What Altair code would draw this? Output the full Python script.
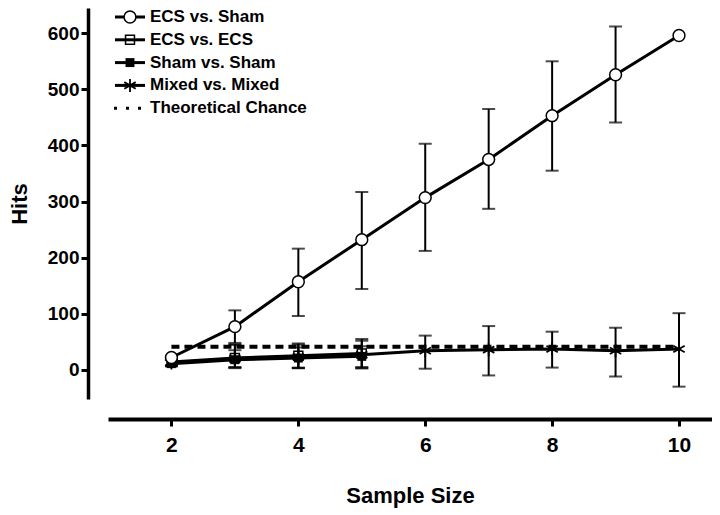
import altair as alt
import pandas as pd

FONT = "Liberation Sans"

# ---- data ----
sizes = [2, 3, 4, 5, 6, 7, 8, 9, 10]
ecs_sham = [22, 77, 157, 232, 307, 375, 453, 526, 596]
ecs_sham_lo = [None, 48, 96, 144, 212, 287, 355, 441, None]
ecs_sham_hi = [None, 106, 216, 317, 403, 465, 550, 612, None]

sizes_short = [2, 3, 4, 5]
ecs_ecs = [14, 21, 25, 29]
ecs_ecs_lo = [8, 5, 4, 5]
ecs_ecs_hi = [22, 45, 45, 52]
sham_sham = [11, 18, 21, 24]
sham_sham_lo = [6, 4, 3, 3]
sham_sham_hi = [18, 35, 40, 42]

mixed = [12, 20, 23, 27, 34, 36, 37, 34, 37]
mixed_lo = [8, 3, 3, 3, 2, -10, 4, -12, -30]
mixed_hi = [18, 45, 47, 55, 61, 78, 68, 75, 101]

chance = [41, 41, 41, 41, 41, 41, 41, 41, 41]

legend_labels = ["ECS vs. Sham", "ECS vs. ECS", "Sham vs. Sham",
                 "Mixed vs. Mixed", "Theoretical Chance"]
x_ticks = [2, 4, 6, 8, 10]
y_ticks = [0, 100, 200, 300, 400, 500, 600]

# ---- tables ----
rows = []
def add(name, xs, ys, lo=None, hi=None):
    for i, (xv, yv) in enumerate(zip(xs, ys)):
        rows.append({"series": name, "x": xv, "y": yv,
                     "lo": None if lo is None else lo[i],
                     "hi": None if hi is None else hi[i]})

add("ECS vs. Sham", sizes, ecs_sham, ecs_sham_lo, ecs_sham_hi)
add("ECS vs. ECS", sizes_short, ecs_ecs, ecs_ecs_lo, ecs_ecs_hi)
add("Sham vs. Sham", sizes_short, sham_sham, sham_sham_lo, sham_sham_hi)
add("Mixed vs. Mixed", sizes, mixed, mixed_lo, mixed_hi)
add("Theoretical Chance", sizes, chance)
df = pd.DataFrame(rows)

leg = pd.DataFrame({"label": legend_labels, "row": list(range(len(legend_labels)))})

# ---- scales / encodings ----
xsc = alt.Scale(domain=[1, 10.52], nice=False, zero=False)
ysc = alt.Scale(domain=[-52, 645], nice=False, zero=False)

x_axis = alt.Axis(values=x_ticks, offset=20, grid=False, domainWidth=4,
                  tickWidth=3, tickSize=7, labelFontSize=21, labelPadding=8,
                  titleFontSize=22, titlePadding=30, format="d")
y_axis = alt.Axis(values=y_ticks, offset=20, grid=False, domainWidth=3.5,
                  tickWidth=3, tickSize=7, labelFontSize=19, labelPadding=2,
                  titleFontSize=22, titlePadding=16, format="d")

def X():
    return alt.X("x:Q", scale=xsc, axis=x_axis, title="Sample Size")

def Yf(field):
    return alt.Y(field + ":Q", scale=ysc, axis=y_axis, title="Hits")

base = alt.Chart(df)
has_err = "isValid(datum.lo) && datum.lo !== null"

err = base.transform_filter(has_err).mark_rule(color="black", strokeWidth=2).encode(
    x=X(), y=Yf("lo"), y2="hi:Q")
cap_hi = base.transform_filter(has_err).mark_tick(
    orient="horizontal", size=13, thickness=2, color="black").encode(
    x=X(), y=Yf("hi"))
cap_lo = base.transform_filter(has_err).mark_tick(
    orient="horizontal", size=13, thickness=2, color="black").encode(
    x=X(), y=Yf("lo"))

lines = base.transform_filter("datum.series != 'Theoretical Chance'").mark_line(
    color="black", strokeWidth=3).encode(x=X(), y=Yf("y"), detail="series:N")
chance_line = base.transform_filter("datum.series == 'Theoretical Chance'").mark_line(
    color="black", strokeWidth=4, strokeDash=[8, 5]).encode(x=X(), y=Yf("y"))

ASTER = "M0,-1L0,1M-0.87,-0.5L0.87,0.5M-0.87,0.5L0.87,-0.5"

pts_ecs_ecs = base.transform_filter("datum.series == 'ECS vs. ECS'").mark_point(
    shape="square", size=80, filled=False, color="black", strokeWidth=1.5, opacity=1).encode(x=X(), y=Yf("y"))
pts_sham = base.transform_filter("datum.series == 'Sham vs. Sham'").mark_point(
    shape="square", size=80, filled=True, color="black", opacity=1).encode(x=X(), y=Yf("y"))
pts_mixed = base.transform_filter("datum.series == 'Mixed vs. Mixed'").mark_point(
    shape=ASTER, size=170, filled=False, color="black", strokeWidth=1.8, opacity=1).encode(x=X(), y=Yf("y"))
pts_circle = base.transform_filter("datum.series == 'ECS vs. Sham'").mark_point(
    shape="circle", size=140, filled=True, fill="white", stroke="black",
    strokeWidth=1.5, opacity=1).encode(x=X(), y=Yf("y"))

# ---- legend (drawn as marks) ----
lbase = alt.Chart(leg).transform_calculate(ly="9 + datum.row * 22.8")
LY = alt.Y("ly:Q", scale=None)
leg_lines = lbase.transform_filter("datum.row < 4").mark_rule(
    color="black", strokeWidth=3).encode(x=alt.value(7), x2=alt.value(37), y=LY)
leg_dots = lbase.transform_filter("datum.row == 4").mark_rule(
    color="black", strokeWidth=3, strokeDash=[3, 9]).encode(
    x=alt.value(6), x2=alt.value(36), y=LY)
leg_circle = lbase.transform_filter("datum.row == 0").mark_point(
    shape="circle", size=140, filled=True, fill="white", stroke="black",
    strokeWidth=1.5, opacity=1).encode(x=alt.value(22), y=LY)
leg_sq_open = lbase.transform_filter("datum.row == 1").mark_point(
    shape="square", size=80, filled=False, color="black", strokeWidth=1.5, opacity=1).encode(
    x=alt.value(22), y=LY)
leg_sq_fill = lbase.transform_filter("datum.row == 2").mark_point(
    shape="square", size=80, filled=True, color="black", opacity=1).encode(
    x=alt.value(22), y=LY)
leg_aster = lbase.transform_filter("datum.row == 3").mark_point(
    shape=ASTER, size=170, filled=False, color="black", strokeWidth=1.8, opacity=1).encode(
    x=alt.value(22), y=LY)
leg_text = lbase.mark_text(align="left", baseline="middle", font=FONT,
                           fontWeight="bold", fontSize=17, color="black").encode(
    x=alt.value(42), y=LY, text="label:N")

chart = alt.layer(
    lines, err, cap_hi, cap_lo, chance_line,
    pts_ecs_ecs, pts_sham, pts_mixed, pts_circle,
    leg_lines, leg_dots, leg_circle, leg_sq_open, leg_sq_fill, leg_aster, leg_text,
).properties(
    width=604, height=391,
    autosize=alt.AutoSizeParams(type="none"),
    padding={"left": 100, "top": 0, "right": 0, "bottom": 110},
    background="white",
).configure_view(stroke=None).configure_axis(
    domainColor="black", tickColor="black", labelColor="black", titleColor="black",
    labelFont=FONT, titleFont=FONT, labelFontWeight="bold", titleFontWeight="bold",
)

chart.save("out.html", embed_options={"renderer": "svg", "actions": False})
